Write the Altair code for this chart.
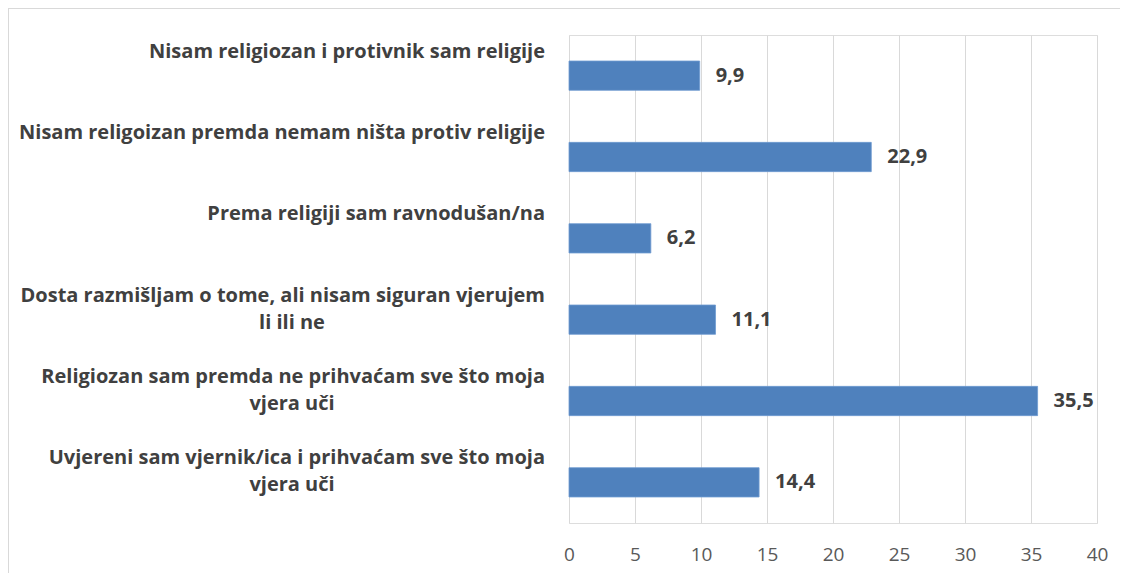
import altair as alt
import pandas as pd

categories = [
    "Nisam religiozan i protivnik sam religije",
    "Nisam religoizan premda nemam ništa protiv religije",
    "Prema religiji sam ravnodušan/na",
    "Dosta razmišljam o tome, ali nisam siguran vjerujem li ili ne",
    "Religiozan sam premda ne prihvaćam sve što moja vjera uči",
    "Uvjereni sam vjernik/ica i prihvaćam sve što moja vjera uči",
]
label_line1 = [
    "Nisam religiozan i protivnik sam religije",
    "Nisam religoizan premda nemam ništa protiv religije",
    "Prema religiji sam ravnodušan/na",
    "Dosta razmišljam o tome, ali nisam siguran vjerujem",
    "Religiozan sam premda ne prihvaćam sve što moja",
    "Uvjereni sam vjernik/ica i prihvaćam sve što moja",
]
label_line2 = ["", "", "", "li ili ne", "vjera uči", "vjera uči"]
values = [9.9, 22.9, 6.2, 11.1, 35.5, 14.4]
x_ticks = [0, 5, 10, 15, 20, 25, 30, 35, 40]

df = pd.DataFrame({
    "cat": categories,
    "line1": label_line1,
    "line2": label_line2,
    "value": values,
})

FONT = "Open Sans"
TEXT_COLOR = "#404040"

y_enc = alt.Y(
    "cat:N",
    sort=categories,
    axis=None,
    scale=alt.Scale(paddingInner=0.64, paddingOuter=0.32),
)
x_enc = alt.X(
    "value:Q",
    scale=alt.Scale(domain=[0, 40], nice=False),
    axis=alt.Axis(
        values=x_ticks,
        title=None,
        grid=True,
        gridColor="#d9d9d9",
        gridWidth=1,
        domain=False,
        ticks=False,
        labelFlush=False,
        labelFontSize=19,
        labelColor="#595959",
        labelPadding=22,
        labelFont=FONT,
    ),
)

base = alt.Chart(df)

border = base.mark_rect(filled=False, stroke="#d9d9d9", strokeWidth=1).encode(
    x=alt.value(-560.5), x2=alt.value(700), y=alt.value(-26.5), y2=alt.value(700)
)

bars = base.mark_bar(color="#4F81BD", stroke="#6f9bd0", strokeWidth=0.8).encode(
    x=x_enc, y=y_enc
)

value_labels = base.transform_calculate(
    lbl="replace(format(datum.value, '.1f'), '.', ',')"
).mark_text(
    align="left", baseline="middle", dx=16, fontSize=20, fontWeight="bold",
    font=FONT, color=TEXT_COLOR,
).encode(x="value:Q", y=y_enc, text="lbl:N")

line1_text = base.mark_text(
    align="right", baseline="middle", dy=-24, fontSize=20, fontWeight="bold",
    font=FONT, color=TEXT_COLOR,
).encode(x=alt.value(-24), y=y_enc, text="line1:N")

line2_text = base.mark_text(
    align="center", baseline="middle", dy=3, fontSize=20, fontWeight="bold",
    font=FONT, color=TEXT_COLOR,
).encode(x=alt.value(-277), y=y_enc, text="line2:N")

chart = alt.layer(border, bars, value_labels, line1_text, line2_text).properties(
    width=528,
    height=488,
    autosize=alt.AutoSizeParams(type="none"),
    padding={"left": 561, "top": 27, "right": 23, "bottom": 50},
).configure_view(stroke=None).configure(background="white")

chart.save("out.html", embed_options={"renderer": "svg", "actions": False})
